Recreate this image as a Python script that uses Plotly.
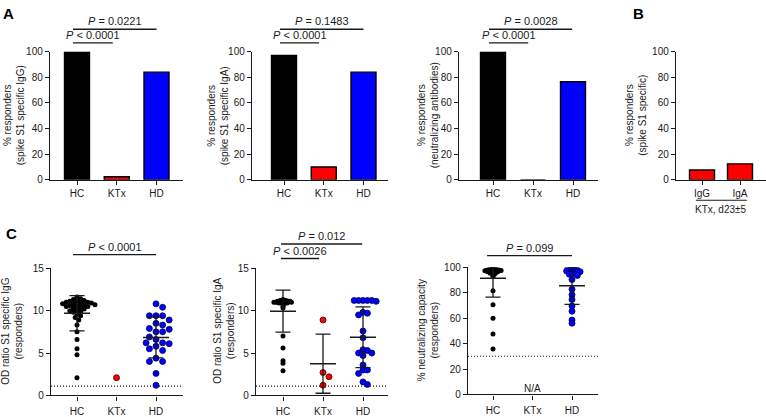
import plotly.graph_objects as go

# ---------------- data ----------------
groups = ["HC", "KTx", "HD"]
b_groups = ["IgG", "IgA"]

pct_igg = [100, 2.4, 84]
pct_iga = [97, 10, 84]
pct_neut = [100, 0, 76.5]
pct_ktx_b = [7.7, 12.5]

igg_hc = [11.6, 11.4, 11.3, 11.2, 11.1, 11.1, 11.0, 11.0, 10.9, 10.9, 10.8, 10.8, 10.7, 10.7,
          10.6, 10.6, 10.5, 10.5, 10.4, 10.3, 10.2, 10.1, 10.0, 9.9, 9.8, 9.6, 9.4, 9.2, 8.9,
          8.3, 7.5, 6.6, 5.5, 4.8, 2.1]
igg_ktx = [2.1]
igg_hd = [10.8, 10.4, 9.4, 9.4, 9.4, 8.9, 8.5, 8.3, 7.9, 7.8, 7.5, 7.5, 6.9, 6.6, 6.2, 6.2,
          6.1, 5.8, 5.5, 5.3, 4.4, 4.0, 4.0, 2.6, 1.2]

iga_hc = [11.3, 11.2, 11.2, 11.2, 11.2, 11.1, 11.1, 11.1, 11.1, 11.1, 11.1, 11.0, 11.0, 11.0,
          11.0, 11.0, 11.0, 11.0, 10.9, 10.9, 10.9, 10.8, 10.7, 10.5, 10.3, 7.0, 5.6, 4.1, 3.8, 2.9]
iga_ktx = [8.9, 2.7, 2.2, 1.2]
iga_hd = [11.2, 11.2, 11.2, 11.2, 11.1, 11.2, 9.8, 9.7, 9.5, 7.6, 6.8, 5.4, 5.3, 5.0, 5.0, 4.7,
          3.6, 3.0, 3.0, 2.6, 1.6, 1.3]

neut_hc = [98.5, 98.3, 98.2, 98.0, 98.0, 98.0, 98.0, 97.8, 97.8, 97.6, 97.5, 97.5, 97.4, 97.3,
           97.2, 97.0, 97.0, 96.8, 96.7, 96.5, 96.4, 96.2, 96.0, 95.8, 95.5, 95.2, 95.0, 94.5,
           93.8, 92.5, 81.5, 70.5, 60.0, 47.5, 35.8]
neut_hd = [98.0, 97.8, 97.5, 97.3, 97.0, 96.5, 95.5, 95.0, 94.5, 93.5, 90.3, 82.7, 78.4, 74.6,
           69.5, 65.4, 58.5, 56.0]

cutoff_od = 1.1
cutoff_neut = 30

# ---------------- layout helpers ----------------
W, H = 766, 417
FONT = "Arial, Liberation Sans, sans-serif"
INK = "#1a1a1a"
BLACK, RED, BLUE = "#000000", "#ff0000", "#0000ff"


def py(yp):
    return (H - yp) / H


# axis geometry in pixels: x-span, y-span(top,bottom), first category px, px per category
panels = {
    1: dict(x=(50, 183), y=(47, 179), c=77, s=39.75),
    2: dict(x=(252, 388), y=(47, 179), c=284, s=39.75),
    3: dict(x=(459, 598), y=(47, 179), c=493, s=40),
    4: dict(x=(676, 766), y=(47, 179), c=702, s=38),
    5: dict(x=(51, 183), y=(270, 401), c=77, s=39.5),
    6: dict(x=(256, 388), y=(270, 401), c=283, s=40),
    7: dict(x=(468, 598), y=(269, 400), c=493, s=39.5),
}

axis_style = dict(showline=True, linecolor=INK, linewidth=1.4, ticks="outside", ticklen=4,
                  tickwidth=1.3, tickcolor=INK, showgrid=False, zeroline=False,
                  tickfont=dict(size=10, color=INK, family=FONT), fixedrange=True)

layout = dict(width=W, height=H, margin=dict(l=0, r=0, t=0, b=0), showlegend=False,
              paper_bgcolor="white", plot_bgcolor="white", font=dict(family=FONT, color=INK))

yranges = {1: [0, 100], 2: [0, 100], 3: [0, 100], 4: [0, 100], 5: [0, 15], 6: [0, 15], 7: [0, 100]}
yticks = {k: [0, 20, 40, 60, 80, 100] for k in (1, 2, 3, 4, 7)}
yticks[5] = [0, 5, 10, 15]
yticks[6] = [0, 5, 10, 15]
xstand = {1: 0, 2: 0, 3: 0, 4: 0, 5: 2, 6: 2, 7: 2}

for k, p in panels.items():
    xs = "" if k == 1 else str(k)
    cats = b_groups if k == 4 else groups
    layout["xaxis" + xs] = dict(axis_style, domain=[p["x"][0] / W, p["x"][1] / W],
                                range=[(p["x"][0] - p["c"]) / p["s"], (p["x"][1] - p["c"]) / p["s"]],
                                tickvals=list(range(len(cats))), ticktext=cats,
                                ticklabelstandoff=xstand[k], anchor="y" + xs)
    layout["yaxis" + xs] = dict(axis_style, domain=[py(p["y"][1]), py(p["y"][0])],
                                range=yranges[k], tickvals=yticks[k], anchor="x" + xs)

fig = go.Figure(layout=layout)


def ax(k):
    return ("x", "y") if k == 1 else ("x%d" % k, "y%d" % k)


# ---------------- bars ----------------
bar_sets = [(1, pct_igg, [BLACK, RED, BLUE]), (2, pct_iga, [BLACK, RED, BLUE]),
            (3, pct_neut, [BLACK, RED, BLUE]), (4, pct_ktx_b, [RED, RED])]
for k, vals, cols in bar_sets:
    xa, ya = ax(k)
    fig.add_trace(go.Bar(x=list(range(len(vals))), y=vals, width=25 / panels[k]["s"],
                         marker=dict(color=cols, line=dict(color=BLACK, width=1.4)),
                         xaxis=xa, yaxis=ya, hoverinfo="skip"))


# ---------------- beeswarm scatter ----------------
def swarm(vals, ypx, xpx, d):
    order = sorted(range(len(vals)), key=lambda i: -vals[i])
    step = d / 2.0
    cand = [0.0]
    for kk in range(1, 80):
        cand += [kk * step, -kk * step]
    placed, res = [], [0.0] * len(vals)
    for i in order:
        yv = vals[i] * ypx
        for c in cand:
            if all((c - a) ** 2 + (yv - b) ** 2 >= d * d for a, b in placed):
                break
        placed.append((c, yv))
        res[i] = c / xpx
    return res


def mean_sd(v):
    m = sum(v) / len(v)
    sd = (sum((x - m) ** 2 for x in v) / (len(v) - 1)) ** 0.5
    return m, sd


scatter_sets = [
    (5, [(0, igg_hc, BLACK, "#000000", 5, 3.6), (1, igg_ktx, RED, "#3a0000", 6, 6),
         (2, igg_hd, BLUE, "#00004a", 6, 6.6)]),
    (6, [(0, iga_hc, BLACK, "#000000", 5, 1.4), (1, iga_ktx, RED, "#3a0000", 6, 6),
         (2, iga_hd, BLUE, "#00004a", 6, 4.4)]),
    (7, [(0, neut_hc, BLACK, "#000000", 5, 1.35), (2, neut_hd, BLUE, "#00004a", 6, 2.7)]),
]

for k, grp in scatter_sets:
    xa, ya = ax(k)
    p = panels[k]
    ypx = (p["y"][1] - p["y"][0]) / (yranges[k][1] - yranges[k][0])
    mx, my, msd = [], [], []
    for gi, vals, col, edge, size, d in grp:
        offs = swarm(vals, ypx, p["s"], d)
        fig.add_trace(go.Scatter(x=[gi + o for o in offs], y=vals, mode="markers",
                                 marker=dict(color=col, size=size,
                                             line=dict(color=edge, width=0.8 if col != BLACK else 0)),
                                 xaxis=xa, yaxis=ya, hoverinfo="skip"))
        if len(vals) > 1:
            m, sd = mean_sd(vals)
            mx.append(gi); my.append(m); msd.append(sd)
    fig.add_trace(go.Scatter(x=mx, y=my, mode="markers",
                             marker=dict(symbol="line-ew-open", size=26 / 1.4, color=INK,
                                         line=dict(color=INK, width=1.5)),
                             error_y=dict(type="data", array=msd, visible=True, color=INK,
                                          thickness=1.3, width=7.5),
                             xaxis=xa, yaxis=ya, hoverinfo="skip", cliponaxis=True))

# cutoff dotted lines
for k, yv in [(5, cutoff_od), (6, cutoff_od), (7, cutoff_neut)]:
    xa, ya = ax(k)
    fig.add_shape(type="line", xref=xa + " domain", yref=ya, x0=0, x1=1, y0=yv, y1=yv,
                  line=dict(color=INK, width=1.1, dash="1px,2px"))

# ---------------- significance brackets ----------------
sig = [
    (1, -0.1, 0.9, 38, "<i>P</i> &lt; 0.0001"), (1, -0.1, 2.0, 24, "<i>P</i> = 0.0221"),
    (2, -0.1, 0.88, 38, "<i>P</i> &lt; 0.0001"), (2, -0.1, 2.0, 24, "<i>P</i> = 0.1483"),
    (3, -0.1, 0.88, 38, "<i>P</i> &lt; 0.0001"), (3, -0.1, 1.98, 24, "<i>P</i> = 0.0028"),
    (5, -0.1, 2.0, 256, "<i>P</i> &lt; 0.0001"),
    (6, -0.05, 0.9, 260, "<i>P</i> &lt; 0.0026"), (6, -0.05, 1.98, 245, "<i>P</i> = 0.012"),
    (7, -0.15, 2.0, 257, "<i>P</i> = 0.099"),
]
for k, x0, x1, ypix, txt in sig:
    xa, _ = ax(k)
    fig.add_shape(type="line", xref=xa, yref="paper", x0=x0, x1=x1, y0=py(ypix), y1=py(ypix),
                  line=dict(color=INK, width=1.4))
    fig.add_annotation(x=(x0 + x1) / 2, xref=xa, y=py(ypix), yref="paper", text=txt,
                       showarrow=False, yanchor="bottom", yshift=0,
                       font=dict(size=11, color=INK, family=FONT))

# ---------------- axis titles ----------------
ytitles = [
    (13.5, 113, "% responders<br>(spike S1 specific IgG)"),
    (217.5, 113, "% responders<br>(spike S1 specific IgA)"),
    (427.5, 113, "% responders<br>(neutralizing antibodies)"),
    (636, 113, "% responders<br>(spike S1 specific)"),
    (12, 335.5, "OD ratio S1 specific IgG<br>(responders)"),
    (224.5, 335, "OD ratio S1 specific IgA<br>(responders)"),
    (427.5, 334.5, "% neutralizing capacity<br>(responders)"),
]
for xp, yp, txt in ytitles:
    fig.add_annotation(x=xp / W, y=py(yp), xref="paper", yref="paper", text=txt, textangle=-90,
                       showarrow=False, xanchor="center", yanchor="middle",
                       font=dict(size=10, color=INK, family=FONT))

# panel letters
for xp, yp, txt in [(8.5, 8, "A"), (638, 8, "B"), (11, 234, "C")]:
    fig.add_annotation(x=xp / W, y=py(yp), xref="paper", yref="paper", text="<b>%s</b>" % txt,
                       showarrow=False, xanchor="center", yanchor="middle",
                       font=dict(size=15, color="#000", family=FONT))

# panel B group label
fig.add_shape(type="line", xref="x4", yref="paper", x0=-0.16, x1=1.18, y0=py(200), y1=py(200),
              line=dict(color=INK, width=1.2))
fig.add_annotation(x=0.5, xref="x4", y=py(210), yref="paper", text="KTx, d23±5", showarrow=False,
                   yanchor="middle", font=dict(size=10, color=INK, family=FONT))

# N/A for KTx neutralization
fig.add_annotation(x=1, xref="x7", y=py(394), yref="paper", text="N/A", showarrow=False,
                   yanchor="middle", font=dict(size=10, color=INK, family=FONT))

fig.write_html("out.html", config={"displayModeBar": False},
               post_script="document.body.style.margin='0px';document.body.style.overflow='hidden';")
